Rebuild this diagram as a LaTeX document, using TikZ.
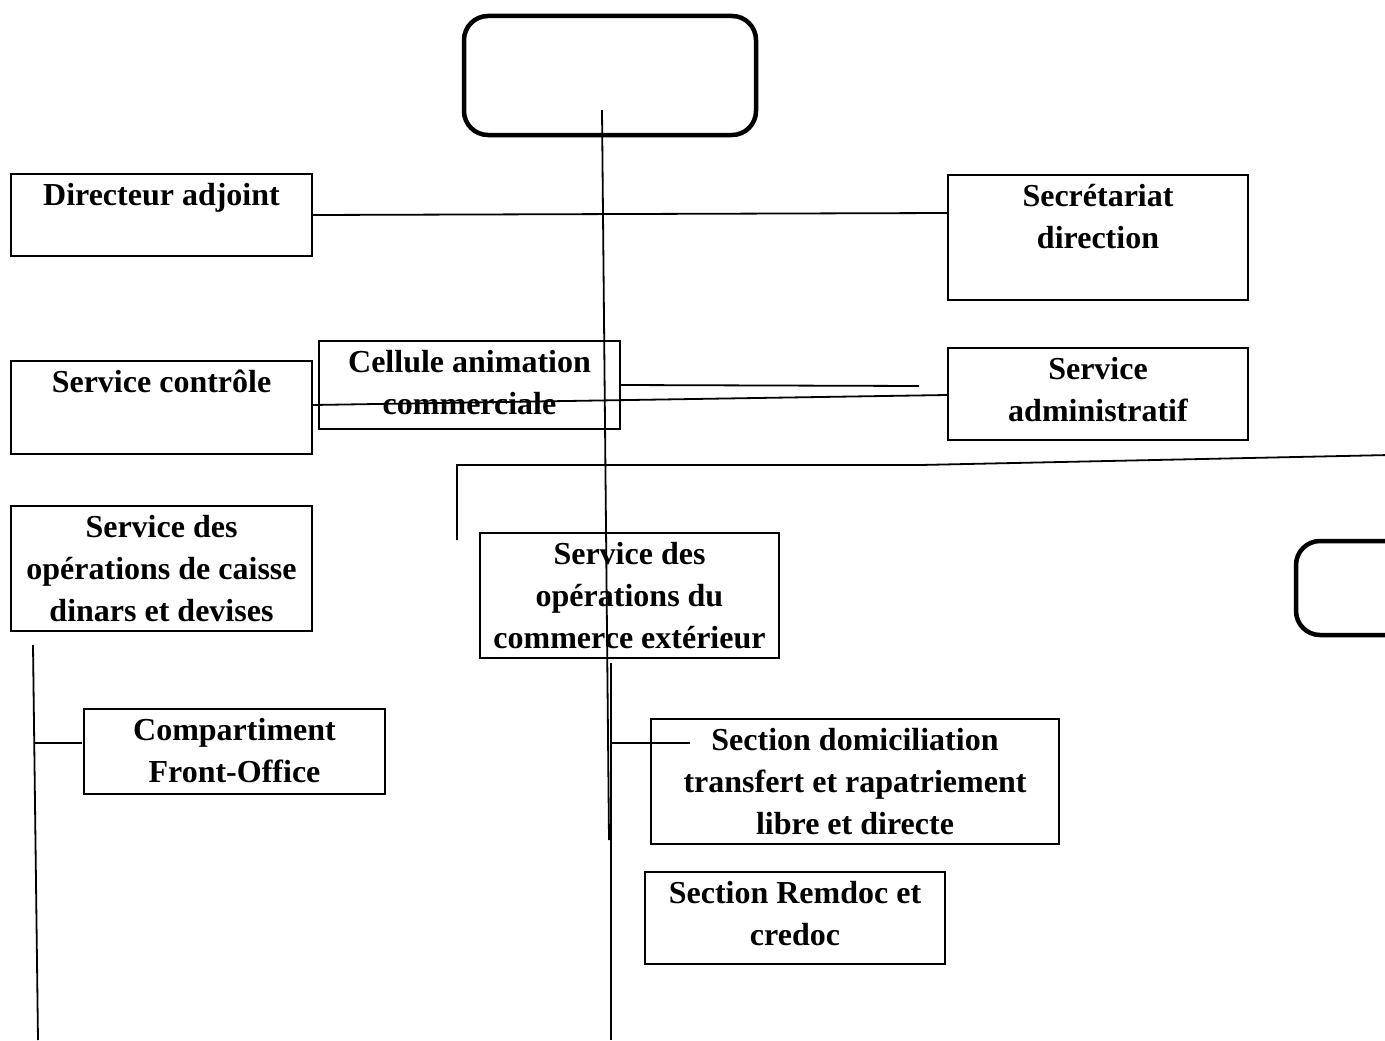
\documentclass[tikz,border=0pt]{standalone}
\usepackage{fontspec}
\setmainfont{Liberation Serif}
\begin{document}
\begin{tikzpicture}[x=1pt,y=-1pt,
  box/.style={draw, line width=2.4pt, rectangle, inner sep=0pt, outer sep=0pt, anchor=north west},
  rbox/.style={draw, line width=4.5pt, rounded corners=24pt},
  lbl/.style={anchor=base, align=center, inner sep=0pt,
              font=\fontsize{32}{42}\selectfont\bfseries},
  link/.style={line width=1.8pt},
  trunk/.style={line width=2.6pt}]
\useasboundingbox (0,0) rectangle (1385,1041);

% rounded heads
\draw[rbox] (464,16) rectangle (756,135);
\coordinate (head) at (602,110);
\draw[rbox] (1296,541) rectangle (1430,635);

% boxes
\node[box, minimum width=301, minimum height=82]  (da)   at (11,174)  {};
\node[box, minimum width=300, minimum height=125] (sd)   at (948,175) {};
\node[box, minimum width=301, minimum height=93]  (sc)   at (11,361)  {};
\node[box, minimum width=301, minimum height=88]  (ca)   at (319,341) {};
\node[box, minimum width=300, minimum height=92]  (sa)   at (948,348) {};
\node[box, minimum width=301, minimum height=125] (socd) at (11,506)  {};
\node[box, minimum width=299, minimum height=125] (soce) at (480,533) {};
\node[box, minimum width=301, minimum height=85]  (cfo)  at (84,709)  {};
\node[box, minimum width=408, minimum height=125] (sdt)  at (651,719) {};
\node[box, minimum width=300, minimum height=92]  (src)  at (645,872) {};

% labels (base anchor sits on the last line)
\node[lbl] (tda)   at ([yshift=-31pt]da.north)    {Directeur adjoint};
\node[lbl] (tsd)   at ([yshift=-73pt]sd.north)    {Secrétariat\\direction};
\node[lbl] (tsc)   at ([yshift=-31pt]sc.north)    {Service contrôle};
\node[lbl] (tca)   at ([yshift=-73pt]ca.north)    {Cellule animation\\commerciale};
\node[lbl] (tsa)   at ([yshift=-73pt]sa.north)    {Service\\administratif};
\node[lbl] (tsocd) at ([yshift=-115pt]socd.north) {Service des\\opérations de caisse\\dinars et devises};
\node[lbl] (tsoce) at ([yshift=-115pt]soce.north) {Service des\\opérations du\\commerce extérieur};
\node[lbl] (tcfo)  at ([yshift=-73pt]cfo.north)   {Compartiment\\Front-Office};
\node[lbl] (tsdt)  at ([yshift=-115pt]sdt.north)  {Section domiciliation\\transfert et rapatriement\\libre et directe};
\node[lbl] (tsrc)  at ([yshift=-73pt]src.north)   {Section Remdoc et\\credoc};

% connector end points
\coordinate (midEnd) at (609,840);
\coordinate (sdIn)   at (947,213);
\coordinate (scOut)  at (313,405);
\coordinate (saIn)   at (947,395);
\coordinate (caEnd)  at (919,386);
\coordinate (brA)    at (457,540);
\coordinate (brB)    at (457,465);
\coordinate (brC)    at (920,465);
\coordinate (brD)    at (1390,455);
\coordinate (lTop)   at (33,645);
\coordinate (lBot)   at (38,1040);
\coordinate (lTap)   at (33.5,743);
\coordinate (cfoIn)  at (82,743);
\coordinate (rTop)   at (611,663);
\coordinate (rBot)   at (611,1040);
\coordinate (rTap)   at (611,743);
\coordinate (sdtIn)  at (690,743);

% connectors
\draw[link] (head) -- (midEnd);
\draw[link] (da.east) -- (sdIn);
\draw[link] (scOut) -- (saIn);
\draw[link] (ca.east) -- (caEnd);
\draw[link] (brA) -- (brB) -- (brC) -- (brD);
\draw[link] (lTop) -- (lBot);
\draw[link] (lTap) -- (cfoIn);
\draw[trunk] (rTop) -- (rBot);
\draw[link] (rTap) -- (sdtIn);
\end{tikzpicture}
\end{document}
